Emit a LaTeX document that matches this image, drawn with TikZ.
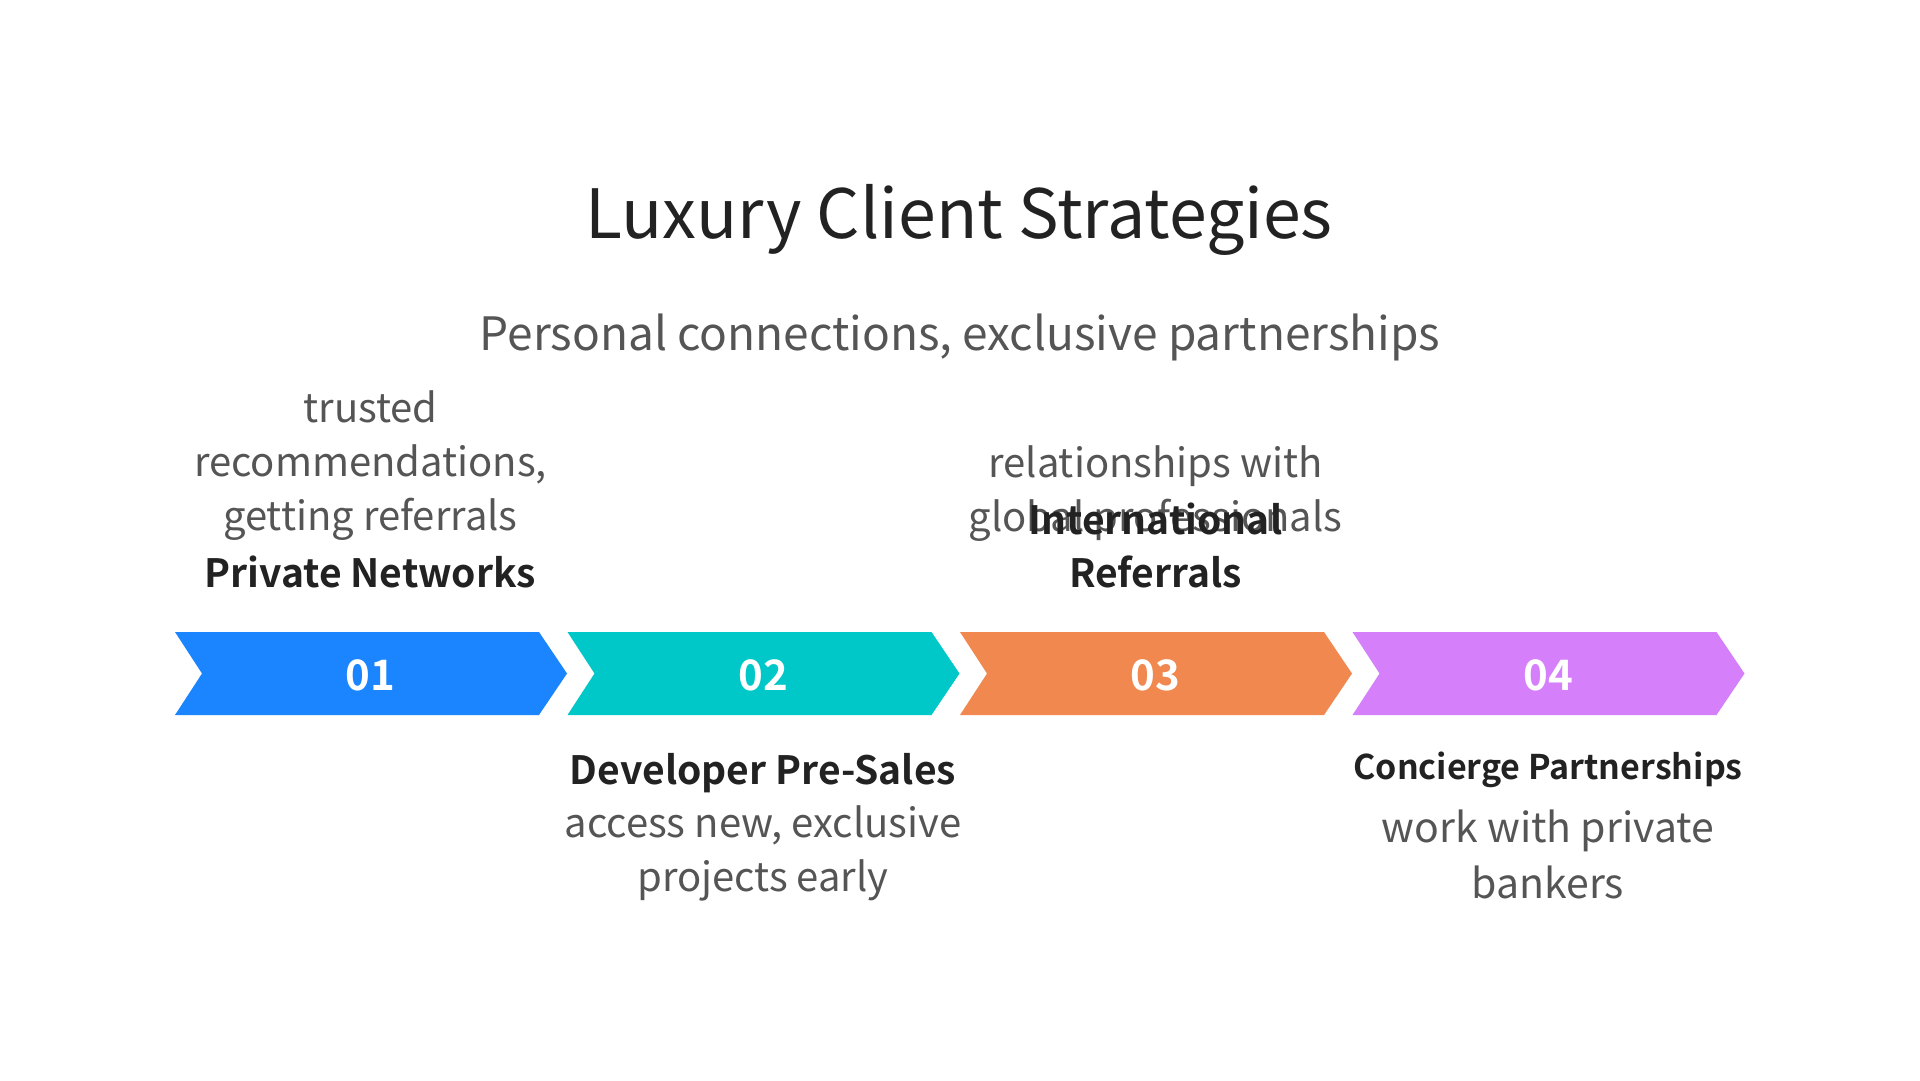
\documentclass[tikz,border=0pt]{standalone}
\usepackage{fontspec}
\setmainfont{Noto Sans CJK SC}[BoldFont={Noto Sans CJK SC Bold}]
\definecolor{cblue}{HTML}{1A85FF}
\definecolor{cteal}{HTML}{00C8C8}
\definecolor{corange}{HTML}{F0884F}
\definecolor{cpurple}{HTML}{D580FA}
\definecolor{dark}{HTML}{222222}
\definecolor{gray5}{HTML}{555555}
\tikzset{
  num/.style={text=white,font=\fontsize{42}{48}\selectfont\bfseries},
  desc/.style={text=gray5,align=center,font=\fontsize{40}{54}\selectfont},
  lbl/.style={text=dark,align=center,font=\fontsize{39}{53}\selectfont\bfseries},
}
\newcommand\mychev[2]{%
  \fill[#2] (#1,632) -- (#1+364,632) -- (#1+392,673.5) -- (#1+364,715) -- (#1,715) -- (#1+27,673.5) -- cycle;}
\begin{document}
\begin{tikzpicture}[x=1pt,y=-1pt]
\useasboundingbox (0,0) rectangle (1920,1080);
\fill[white] (0,0) rectangle (1920,1080);
\node[text=dark,font=\fontsize{68}{80}\selectfont] (title) at (959,220) {Luxury Client Strategies};
\node[text=gray5,font=\fontsize{46}{54}\selectfont] (sub) at (960,337) {Personal connections, exclusive partnerships};
\mychev{175}{cblue}
\mychev{567.5}{cteal}
\mychev{960}{corange}
\mychev{1352.5}{cpurple}
\node[num] (n1) at (370.5,675) {01};
\node[num] (n2) at (763,675) {02};
\node[num] (n3) at (1155.5,675) {03};
\node[num] (n4) at (1548,675) {04};
\node[desc] (d1) at (370.5,466) {trusted\\recommendations,\\getting referrals};
\node[lbl] (l1) at (370.5,572) {Private Networks};
\node[lbl] (l2) at (763,773) {Developer Pre-Sales};
\node[desc] (d2) at (763,853) {access new, exclusive\\projects early};
\node[desc] (d3) at (1155.5,494) {relationships with\\global professionals};
\node[lbl] (l3) at (1155.5,545) {International\\Referrals};
\node[lbl,font=\fontsize{34}{40}\selectfont\bfseries] (l4) at (1548,770) {Concierge Partnerships};
\node[desc,font=\fontsize{41}{56}\selectfont] (d4) at (1548,854) {work with private\\bankers};
\end{tikzpicture}
\end{document}
